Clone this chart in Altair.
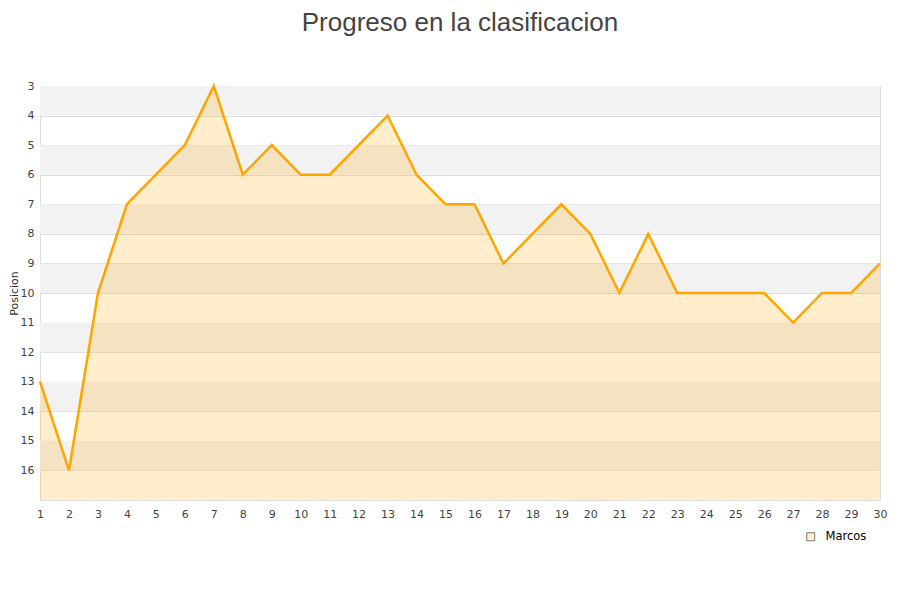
import altair as alt
import pandas as pd

# Datos de la clasificacion por jornada
jornadas = list(range(1, 31))
posiciones = [13, 16, 10, 7, 6, 5, 3, 6, 5, 6, 6, 5, 4, 6, 7, 7, 9, 8, 7, 8,
              10, 8, 10, 10, 10, 10, 11, 10, 10, 9]
jugador = "Marcos"

# franjas grises alternas del fondo
franjas_inicio = [3, 5, 7, 9, 11, 13, 15]
y_ticks = list(range(3, 17))

W, H = 840, 414

df = pd.DataFrame({"jornada": jornadas, "posicion": posiciones, "jugador": jugador})
df_franjas = pd.DataFrame({"inicio": franjas_inicio,
                           "fin": [v + 1 for v in franjas_inicio]})

y_scale = alt.Scale(domain=[3, 17], reverse=True, nice=False, zero=False)
x_scale = alt.Scale(domain=[1, 30], nice=False, zero=False)

y_axis = alt.Axis(values=y_ticks, title="Posicion", ticks=False, domain=False,
                  labelPadding=6, gridColor="#dddddd",
                  titleX=-26, titleY=H / 2, titleAngle=270,
                  titleAlign="center", titleBaseline="middle")
x_axis = alt.Axis(values=jornadas, title="", ticks=False, domain=False,
                  grid=False, labelPadding=8, labelAngle=0, labelFlush=False)

franjas = (
    alt.Chart(df_franjas)
    .mark_rect(color="#f2f2f2")
    .encode(
        x=alt.value(0),
        x2=alt.value(W),
        y=alt.Y("inicio:Q", scale=y_scale, axis=y_axis),
        y2="fin:Q",
    )
)

area = (
    alt.Chart(df)
    .mark_area(color="#ffa500", fillOpacity=0.2)
    .encode(
        x=alt.X("jornada:Q", scale=x_scale, axis=x_axis),
        y=alt.Y("posicion:Q", scale=y_scale, axis=y_axis),
        y2=alt.Y2(datum=17),
    )
)

linea = (
    alt.Chart(df)
    .mark_line(color="#ffa500", strokeWidth=2.5)
    .encode(
        x=alt.X("jornada:Q", scale=x_scale, axis=x_axis),
        y=alt.Y("posicion:Q", scale=y_scale, axis=y_axis),
    )
)

# capa invisible que solo aporta la leyenda
leyenda = (
    alt.Chart(df)
    .mark_square(size=0, filled=True)
    .encode(
        x=alt.X("jornada:Q", scale=x_scale, axis=x_axis),
        y=alt.Y("posicion:Q", scale=y_scale, axis=y_axis),
        color=alt.Color(
            "jugador:N",
            scale=alt.Scale(range=["#ffedcc"]),
            legend=alt.Legend(
                title=None, orient="none", legendX=765, legendY=445,
                symbolType="square", symbolSize=64, symbolOpacity=1,
                symbolStrokeColor="#777777", symbolStrokeWidth=1,
                labelOffset=9, labelFontSize=11.5, labelColor="#000000",
                labelFont="DejaVu Sans",
            ),
        ),
    )
)

chart = (
    alt.layer(franjas, area, linea, leyenda)
    .properties(
        width=W,
        height=H,
        title=alt.Title("Progreso en la clasificacion", fontSize=26,
                        font="Liberation Sans", fontWeight="normal",
                        color="#444444", anchor="middle", offset=44),
        autosize=alt.AutoSizeParams(type="none"),
        padding={"left": 32, "top": 78, "right": 12, "bottom": 92},
    )
    .configure_view(stroke="#dddddd")
    .configure_axis(labelFont="DejaVu Sans", labelFontSize=11, labelColor="#444444",
                    titleFont="DejaVu Sans", titleFontSize=11, titleColor="#333333",
                    titleFontWeight="normal")
)

chart.save("out.html", embed_options={"renderer": "svg", "actions": False})
